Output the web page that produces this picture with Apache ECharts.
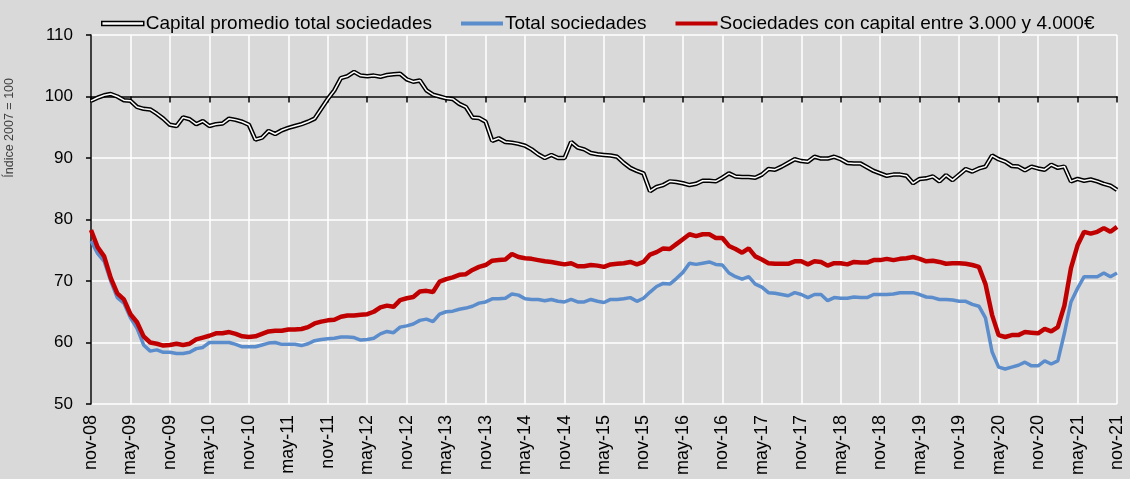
<!DOCTYPE html>
<html>
<head>
<meta charset="utf-8">
<script src="https://cdn.jsdelivr.net/npm/echarts@6/dist/echarts.min.js"></script>
<style>
html,body{margin:0;padding:0;background:#d9d9d9;}
#chart{width:1130px;height:479px;}
</style>
</head>
<body>
<div id="chart"></div>
<script>
// Month abbreviations and years used for the category labels (nov-08 … nov-21)
const monthNames = ['ene','feb','mar','abr','may','jun','jul','ago','sep','oct','nov','dic'];
const startYear = 2008, startMonth = 10, monthCount = 157;
const categories = [];
for (let k = 0; k < monthCount; k++) {
  const m = (startMonth + k) % 12;
  const y = startYear + Math.floor((startMonth + k) / 12);
  categories.push(monthNames[m] + '-' + String(y % 100).padStart(2, '0'));
}

const seriesNames = ['Capital promedio total sociedades', 'Total sociedades', 'Sociedades con capital entre 3.000 y 4.000€'];

const capitalPromedio = [
  99.3,99.8,100.2,100.4,100.0,99.4,99.3,98.3,98.0,97.9,97.2,96.4,95.4,95.2,96.6,96.3,95.5,96.0,95.2,95.5,
  95.6,96.4,96.2,95.9,95.4,93.0,93.3,94.4,93.9,94.5,94.9,95.2,95.5,95.9,96.4,98.0,99.6,101.0,103.0,103.3,
  104.0,103.4,103.3,103.4,103.2,103.5,103.6,103.7,102.8,102.4,102.6,101.0,100.3,100.0,99.7,99.6,98.8,98.3,96.6,96.5,
  95.9,92.8,93.2,92.6,92.5,92.3,92.0,91.4,90.6,90.0,90.5,90.0,90.0,92.6,91.7,91.4,90.8,90.6,90.5,90.4,
  90.2,89.2,88.4,87.9,87.5,84.6,85.3,85.6,86.2,86.1,85.9,85.6,85.8,86.3,86.3,86.2,86.8,87.5,87.0,86.9,
  86.9,86.8,87.3,88.2,88.1,88.6,89.2,89.8,89.5,89.4,90.2,89.9,89.9,90.2,89.8,89.2,89.1,89.1,88.5,87.9,
  87.5,87.1,87.3,87.3,87.1,85.9,86.6,86.7,87.0,86.2,87.2,86.4,87.3,88.2,87.8,88.3,88.6,90.4,89.8,89.4,
  88.7,88.6,88.0,88.6,88.3,88.1,88.9,88.4,88.6,86.2,86.6,86.3,86.5,86.2,85.8,85.5,84.8
];

const totalSociedades = [
  76.5,74.5,73.2,70.0,67.3,66.4,64.0,62.3,59.6,58.6,58.8,58.4,58.4,58.2,58.2,58.4,59.0,59.2,60.0,60.0,
  60.0,60.0,59.7,59.3,59.3,59.3,59.6,59.9,60.0,59.7,59.7,59.7,59.5,59.8,60.3,60.5,60.6,60.7,60.9,60.9,
  60.8,60.4,60.5,60.7,61.4,61.8,61.6,62.5,62.7,63.0,63.6,63.8,63.4,64.6,65.0,65.1,65.4,65.6,65.9,66.4,
  66.6,67.1,67.1,67.2,67.9,67.7,67.1,67.0,67.0,66.8,67.0,66.7,66.6,67.0,66.6,66.6,67.0,66.7,66.5,67.0,
  67.0,67.1,67.3,66.7,67.2,68.2,69.1,69.6,69.5,70.4,71.4,72.9,72.7,72.9,73.1,72.7,72.6,71.3,70.7,70.3,
  70.7,69.5,69.0,68.1,68.0,67.8,67.6,68.1,67.8,67.3,67.8,67.8,66.8,67.3,67.2,67.2,67.4,67.3,67.3,67.8,
  67.8,67.8,67.9,68.1,68.1,68.1,67.8,67.4,67.3,67.0,67.0,66.9,66.7,66.7,66.2,65.9,64.0,58.5,56.0,55.7,
  56.0,56.3,56.8,56.2,56.2,57.0,56.5,57.0,61.5,66.6,68.8,70.7,70.7,70.7,71.3,70.7,71.3
];

const capital3000a4000 = [
  78.3,75.5,74.0,70.5,68.0,67.0,64.6,63.3,61.0,60.0,59.8,59.5,59.6,59.8,59.6,59.8,60.5,60.8,61.1,61.5,
  61.5,61.7,61.4,61.0,60.9,61.0,61.4,61.8,61.9,61.9,62.1,62.1,62.2,62.5,63.1,63.4,63.6,63.7,64.2,64.4,
  64.4,64.5,64.6,65.0,65.7,66.0,65.8,66.9,67.2,67.4,68.3,68.4,68.2,69.9,70.3,70.6,71.0,71.1,71.8,72.3,
  72.6,73.3,73.4,73.5,74.4,73.9,73.7,73.6,73.4,73.2,73.1,72.9,72.7,72.9,72.4,72.4,72.6,72.5,72.3,72.7,
  72.8,72.9,73.1,72.7,73.1,74.3,74.7,75.3,75.2,76.0,76.8,77.6,77.3,77.6,77.6,77.0,77.0,75.7,75.2,74.6,
  75.3,74.0,73.5,72.9,72.8,72.8,72.8,73.2,73.2,72.7,73.2,73.1,72.5,72.9,72.9,72.7,73.1,73.0,73.0,73.4,
  73.4,73.6,73.4,73.6,73.7,73.9,73.6,73.2,73.3,73.1,72.8,72.9,72.9,72.8,72.6,72.3,69.5,64.5,61.2,60.9,
  61.2,61.2,61.7,61.6,61.5,62.2,61.8,62.5,66.0,72.1,75.8,78.0,77.7,78.0,78.6,78.0,78.8
];

const yTicks = { min: 50, max: 110, interval: 10 };
const yAxisTitle = 'Índice 2007 = 100';

const FONT = '"Liberation Sans", Arial, sans-serif';
const chart = echarts.init(document.getElementById('chart'), null, { renderer: 'canvas' });

chart.setOption({
  backgroundColor: '#d9d9d9',
  animation: false,
  textStyle: { fontFamily: FONT },
  legend: {
    left: 96, top: 9,
    itemWidth: 42, itemHeight: 4, itemGap: 29,
    textStyle: { fontFamily: FONT, fontSize: 19, color: '#000', padding: [0, 0, 0, -3] },
    data: [
      { name: seriesNames[0], icon: 'rect', itemStyle: { color: '#ffffff', borderColor: '#000000', borderWidth: 1.5 } },
      { name: seriesNames[1], icon: 'rect', itemStyle: { color: '#5b8ccb' } },
      { name: seriesNames[2], icon: 'rect', itemStyle: { color: '#c00000' } }
    ]
  },
  graphic: [{
    type: 'text', left: 3, top: 78,
    rotation: Math.PI / 2,
    style: { text: yAxisTitle, fontFamily: FONT, fontSize: 12.5, fill: '#404040' }
  }],
  grid: [
    { left: 91, right: 13, top: 35, bottom: 75, containLabel: false },
    { left: 91, right: 13, top: 35, height: 61.5, containLabel: false }
  ],
  xAxis: [
    {
      type: 'category', gridIndex: 0, data: categories, boundaryGap: false,
      axisLine: { show: false },
      axisTick: { show: false },
      axisLabel: { interval: 5, rotate: 90, margin: 11, fontSize: 18, color: '#000', fontFamily: FONT },
      splitLine: { show: true, interval: 5, lineStyle: { color: '#ffffff', width: 1.5 } }
    },
    {
      type: 'category', gridIndex: 1, data: categories, boundaryGap: false,
      axisLine: { show: true, lineStyle: { color: '#000', width: 1.5 } },
      axisTick: { show: true, interval: 5, length: 6, lineStyle: { color: '#000', width: 1.5 } },
      axisLabel: { show: false },
      splitLine: { show: false }
    }
  ],
  yAxis: [
    {
      type: 'value', gridIndex: 0, min: yTicks.min, max: yTicks.max, interval: yTicks.interval,
      axisLine: { show: true, lineStyle: { color: '#000', width: 1.5 } },
      axisTick: { show: true, length: 5, lineStyle: { color: '#000', width: 1.5 } },
      axisLabel: { margin: 18, fontSize: 17, color: '#000', fontFamily: FONT },
      splitLine: { show: true, lineStyle: { color: '#ffffff', width: 1.5 } }
    },
    { type: 'value', gridIndex: 1, min: 0, max: 1, show: false }
  ],
  series: [
    {
      name: seriesNames[0], type: 'line', data: capitalPromedio, showSymbol: false, symbol: 'none',
      lineStyle: { color: '#000000', width: 4.5 }, itemStyle: { color: '#000' }, z: 3
    },
    {
      name: seriesNames[0] + ' (interior)', type: 'line', data: capitalPromedio, showSymbol: false, symbol: 'none',
      lineStyle: { color: '#ffffff', width: 1.5 }, z: 4, silent: true
    },
    {
      name: seriesNames[1], type: 'line', data: totalSociedades, showSymbol: false, symbol: 'none',
      lineStyle: { color: '#5b8ccb', width: 3.5 }, itemStyle: { color: '#5b8ccb' }, z: 5
    },
    {
      name: seriesNames[2], type: 'line', data: capital3000a4000, showSymbol: false, symbol: 'none',
      lineStyle: { color: '#c00000', width: 4.5 }, itemStyle: { color: '#c00000' }, z: 6
    }
  ]
});
</script>
</body>
</html>
